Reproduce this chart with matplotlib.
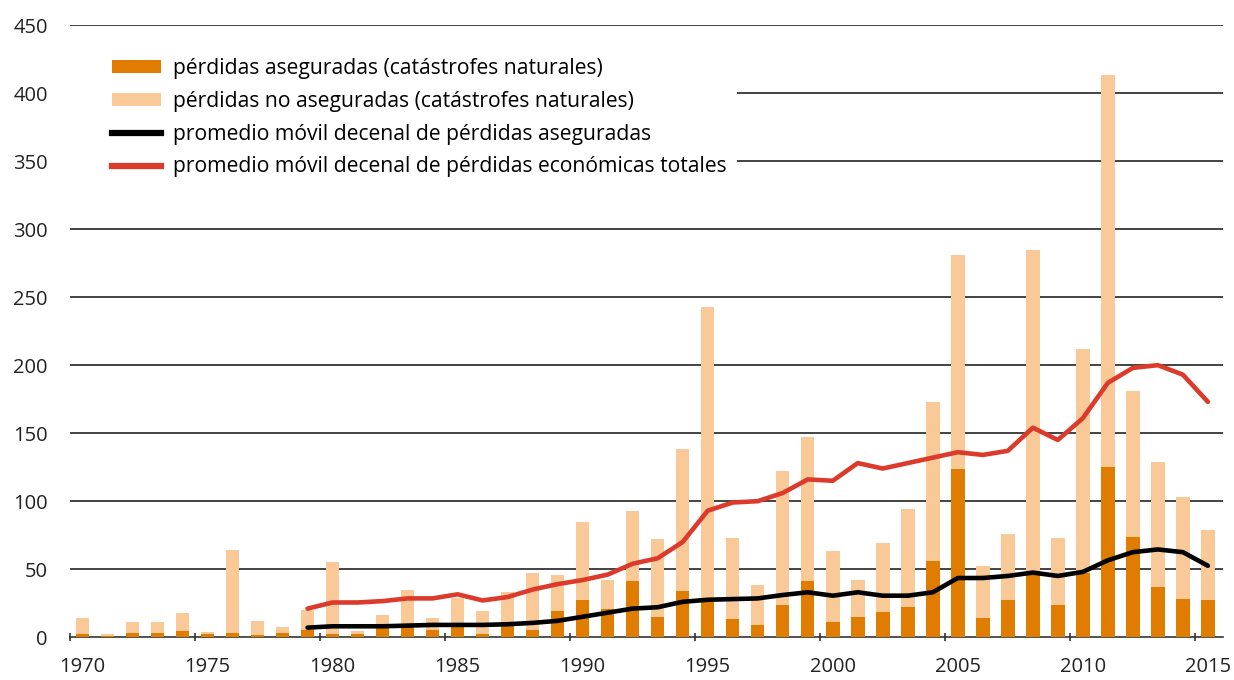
import numpy as np
import matplotlib
matplotlib.use("Agg")
import matplotlib.pyplot as plt
from matplotlib.patches import Patch, Rectangle
from matplotlib.lines import Line2D

plt.rcParams['font.family'] = ['Open Sans', 'DejaVu Sans']

years = list(range(1970, 2016))
asegurado = [2.5, 1, 3, 3, 4.5, 2.5, 3, 1.5, 3, 5.5,
             2.5, 2, 6.5, 7.5, 5, 7.5, 2.5, 11, 5, 19,
             27, 21, 41, 15, 34, 26, 13, 9, 24, 41,
             11, 15, 18.5, 22.5, 56, 124, 14, 27, 47, 24,
             47, 125, 74, 37, 28, 27]
no_asegurado = [11.5, 1.5, 8, 8, 13, 1, 61, 10.5, 4.5, 14.5,
                52.5, 2.5, 10, 27.5, 9, 21.5, 16.5, 22, 42, 27,
                58, 21, 52, 57, 104, 217, 60, 29, 98, 106,
                52, 27, 50.5, 71.5, 117, 157, 38, 49, 238, 49,
                165, 288, 107, 91.5, 75, 52]

years_ma = list(range(1979, 2016))
ma_asegurado = [7, 8, 8, 8, 8.5, 9, 9, 9, 9.5, 10.5, 12, 15, 18, 21, 22, 26,
                27.5, 28, 28.5, 31, 33, 30.5, 33, 30.5, 30.5, 33, 43.5, 43.5,
                45, 47.5, 45, 48, 56.5, 62.5, 64.5, 62.5, 52.5]
ma_total = [21, 25.5, 25.5, 26.5, 28.5, 28.5, 31.5, 27, 29.5, 35, 39, 42, 46,
            54, 58, 70, 93, 99, 100, 106, 116, 115, 128, 124, 128, 132, 136,
            134, 137, 154, 145, 161, 187, 198, 200, 193, 173]

c_ins = "#E07C00"
c_unins = "#F9C998"
c_red = "#DC3A2B"

fig = plt.figure(figsize=(12.34, 6.8), dpi=100)
ax = fig.add_axes([0.0567, 0.063, 0.9343, 0.9])

ax.bar(years, asegurado, width=0.54, color=c_ins, zorder=3, linewidth=0)
ax.bar(years, no_asegurado, width=0.54, bottom=asegurado, color=c_unins,
       zorder=3, linewidth=0)
ax.plot(years_ma, ma_asegurado, color="black", lw=3.3, zorder=5,
        solid_capstyle='round', solid_joinstyle='round')
ax.plot(years_ma, ma_total, color=c_red, lw=3.3, zorder=5,
        solid_capstyle='round', solid_joinstyle='round')

ax.set_xlim(1969.5, 2015.6)
ax.set_ylim(0, 450)

for v in range(50, 451, 50):
    ax.axhline(v, color="#222222", lw=1.2, zorder=1)

for s in ['top', 'right', 'left']:
    ax.spines[s].set_visible(False)
ax.spines['bottom'].set_color("#333333")
ax.spines['bottom'].set_linewidth(1.2)

ax.set_yticks(range(0, 451, 50))
ax.tick_params(axis='y', length=0, pad=16, labelsize=14.5, labelcolor="#222222")

ticks5 = list(range(1970, 2016, 5))
ax.set_xticks([t - 0.5 for t in ticks5])
ax.set_xticklabels([])
ax.tick_params(axis='x', which='major', length=6, width=1.2, color="#333333",
               direction='inout')
ax.set_xticks(ticks5, minor=True)
ax.set_xticklabels([str(t) for t in ticks5], minor=True)
ax.tick_params(axis='x', which='minor', length=0, pad=14, labelsize=14.5,
               labelcolor="#222222")

# white box behind the legend hides gridlines
ax.add_patch(Rectangle((0, 0.735), 0.5785, 0.23, transform=ax.transAxes,
                       facecolor="white", edgecolor="none", zorder=2))

handles = [
    Patch(facecolor=c_ins, edgecolor='none'),
    Patch(facecolor=c_unins, edgecolor='none'),
    Line2D([0], [0], color="black", lw=4.5),
    Line2D([0], [0], color=c_red, lw=4.5),
]
labels = [
    "pérdidas aseguradas (catástrofes naturales)",
    "pérdidas no aseguradas (catástrofes naturales)",
    "promedio móvil decenal de pérdidas aseguradas",
    "promedio móvil decenal de pérdidas económicas totales",
]
leg = ax.legend(handles, labels, loc='upper left',
                bbox_to_anchor=(112 / 1234, 1 - 58 / 680),
                bbox_transform=fig.transFigure, frameon=False,
                fontsize=15.2, handlelength=2.3, handleheight=0.55,
                handletextpad=0.58, labelspacing=0.56, borderpad=0,
                borderaxespad=0)
leg.set_zorder(6)

fig.savefig("out.png", dpi=100)
